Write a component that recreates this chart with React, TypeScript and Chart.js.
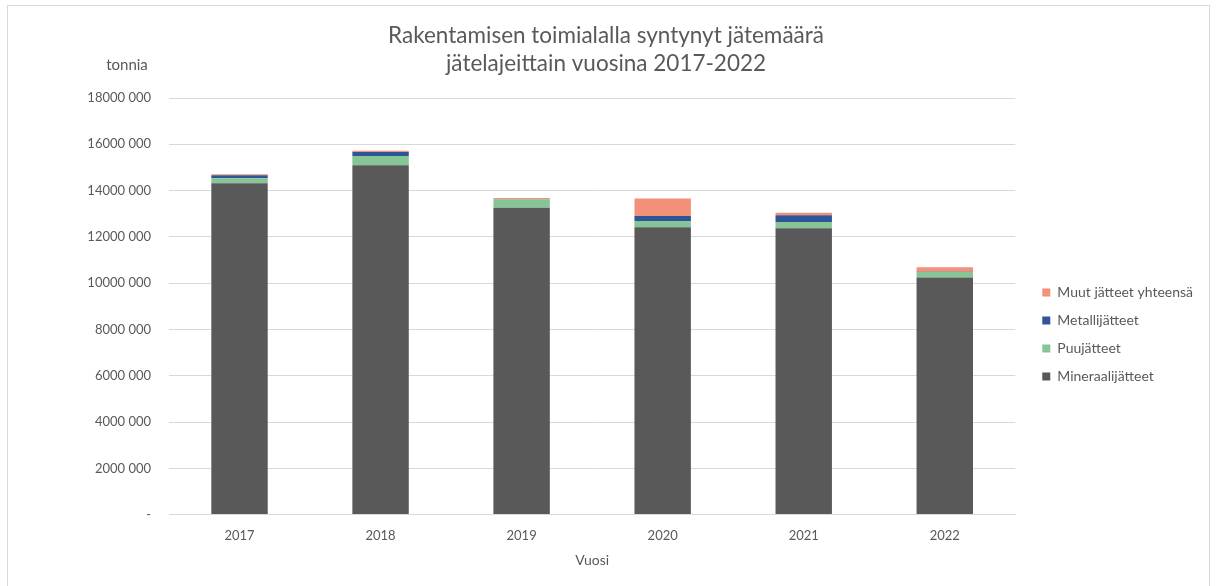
import React, { useEffect, useRef } from "react";
import { Chart, registerables } from "chart.js";

Chart.register(...registerables);

const years = ["2017", "2018", "2019", "2020", "2021", "2022"];
const mineraali = [14320000, 15100000, 13260000, 12420000, 12370000, 10240000];
const puu = [210000, 400000, 350000, 270000, 270000, 240000];
const metalli = [130000, 170000, 15000, 210000, 300000, 15000];
const muut = [50000, 50000, 60000, 760000, 100000, 190000];
const yTickLabels = ["-", "2000 000", "4000 000", "6000 000", "8000 000", "10000 000", "12000 000", "14000 000", "16000 000", "18000 000"];

const FONT = "Lato, 'Open Sans', sans-serif";
const TXT = "#595959";

const tonniaPlugin = {
  id: "tonnia",
  afterLayout(chart: any) {
    const lg = chart.legend;
    if (lg) {
      lg.left += 13;
      lg.right += 13;
      lg.top += 45;
      lg.bottom += 45;
    }
  },
  afterDraw(chart: any) {
    const ctx = chart.ctx;
    const ys = chart.scales.y;
    ctx.save();
    ctx.font = `15px ${FONT}`;
    ctx.fillStyle = TXT;
    ctx.textAlign = "center";
    ctx.textBaseline = "middle";
    ctx.fillText("tonnia", ys.right - 42, chart.chartArea.top - 33);
    ctx.restore();
  },
};

export default function App() {
  const ref = useRef<HTMLCanvasElement>(null);
  useEffect(() => {
    if (!ref.current) return;
    const chart = new Chart(ref.current, {
      type: "bar",
      data: {
        labels: years,
        datasets: [
          { label: "Mineraalijätteet", data: mineraali, backgroundColor: "#595959" },
          { label: "Puujätteet", data: puu, backgroundColor: "#86c595" },
          { label: "Metallijätteet", data: metalli, backgroundColor: "#2f5597" },
          { label: "Muut jätteet yhteensä", data: muut, backgroundColor: "#f2907a" },
        ],
      },
      options: {
        animation: false,
        responsive: false,
        maintainAspectRatio: false,
        devicePixelRatio: 1,
        layout: { padding: { left: 14, right: 19, top: 0, bottom: 13 } },
        datasets: { bar: { categoryPercentage: 1, barPercentage: 0.4 } },
        plugins: {
          title: {
            display: true,
            text: ["Rakentamisen toimialalla syntynyt jätemäärä", "jätelajeittain vuosina 2017-2022"],
            color: TXT,
            font: { family: FONT, size: 22.5, weight: "normal", lineHeight: 1.245 },
            padding: { top: 16, bottom: 20 },
          },
          legend: {
            position: "right",
            reverse: true,
            labels: {
              color: TXT,
              font: { family: FONT, size: 14 },
              boxWidth: 8,
              boxHeight: 8,
              padding: 14,
            },
          },
          tooltip: { enabled: false },
        },
        scales: {
          x: {
            stacked: true,
            grid: { display: false, drawTicks: false },
            border: { display: true, color: "#d9d9d9" },
            ticks: { color: TXT, font: { family: FONT, size: 13 }, padding: 13 },
            title: { display: true, text: "Vuosi", color: TXT, font: { family: FONT, size: 14 }, padding: { top: -4 } },
          },
          y: {
            stacked: true,
            min: 0,
            max: 18000000,
            grid: { color: "#d9d9d9", drawTicks: false },
            border: { display: false },
            afterFit: (s: any) => {
              s.width = 147;
            },
            ticks: {
              stepSize: 2000000,
              color: TXT,
              font: { family: FONT, size: 13 },
              padding: 18,
              callback: (_v: any, i: number) => yTickLabels[i],
            },
          },
        },
      },
      plugins: [tonniaPlugin],
    });
    return () => chart.destroy();
  }, []);
  return (
    <div
      style={{
        position: "absolute",
        left: 7,
        top: 5,
        width: 1201,
        height: 590,
        border: "1px solid #d9d9d9",
        background: "#fff",
      }}
    >
      <canvas ref={ref} width={1201} height={580} style={{ display: "block" }} />
    </div>
  );
}
